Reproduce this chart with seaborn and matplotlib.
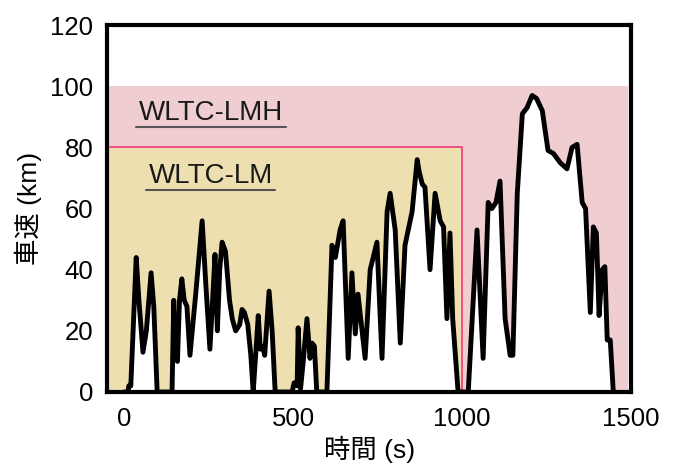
import matplotlib
matplotlib.use("Agg")
import matplotlib.pyplot as plt
import seaborn as sns
import pandas as pd
from matplotlib.patches import Rectangle

# speed trace (time in s, speed in km)
time_s = [0, 12, 14, 20, 36, 44, 56, 66, 80, 88, 98,
          142, 147, 152, 158, 164, 171, 178, 186, 195, 212, 231, 242, 254, 262,
          269, 276, 283, 290, 300, 312, 320, 330, 342, 349, 356, 366, 375, 382,
          397, 403, 410, 416, 429, 438, 447,
          497, 503, 512, 515, 522, 530, 541, 550, 556, 563, 570,
          600, 615, 625, 639, 648, 663, 674, 684, 692, 702, 713, 728, 748, 763,
          778, 787, 802, 817, 831, 852, 867, 873, 882, 890, 905, 920, 935, 945,
          955, 964, 972, 988,
          1018, 1044, 1062, 1077, 1088, 1100, 1112, 1127, 1142, 1150, 1163,
          1178, 1192, 1207, 1220, 1237, 1254, 1270, 1290, 1310, 1325, 1340,
          1355, 1365, 1379, 1388, 1397, 1405, 1414, 1422, 1429, 1438, 1447]
speed = [0, 0, 2, 2, 44, 30, 13, 20, 39, 28, 0,
         0, 30, 12, 10, 30, 37, 30, 28, 12, 32, 56, 35, 14, 30,
         45, 20, 40, 49, 46, 30, 24, 20, 22, 27, 26, 22, 12, 0,
         25, 14, 15, 12, 33, 20, 0,
         0, 3, 2, 21, 1, 10, 24, 11, 16, 15, 0,
         0, 48, 44, 53, 56, 11, 39, 19, 32, 22, 11, 40, 49, 11,
         59, 65, 53, 16, 48, 59, 76, 72, 68, 67, 40, 65, 56, 54,
         24, 52, 24, 0,
         0, 53, 11, 62, 60, 62, 69, 24, 12, 12, 65,
         91, 93, 97, 96, 92, 79, 78, 75, 73, 80, 81,
         62, 60, 26, 54, 52, 25, 40, 41, 17, 17, 0]

# test cycle ranges: (start s, end s, top speed km)
cycle_names = ["WLTC-LMH", "WLTC-LM"]
cycle_start = [-50, -50]
cycle_end = [1490, 1000]
cycle_top = [100, 80]
cycle_colors = ["#F0CDD1", "#EDDFB0"]

df = pd.DataFrame({"time": time_s, "speed": speed})

sns.set_style("white")
plt.rcParams["font.family"] = ["Liberation Sans", "Noto Sans CJK JP", "DejaVu Sans"]
plt.rcParams["text.color"] = "black"
plt.rcParams["xtick.color"] = "black"
plt.rcParams["ytick.color"] = "black"
plt.rcParams["axes.labelcolor"] = "black"

fig = plt.figure(figsize=(6.78, 4.74), dpi=100)
ax = fig.add_axes([0.158, 0.173, 0.773, 0.774])

for x0, x1, top, col in zip(cycle_start, cycle_end, cycle_top, cycle_colors):
    ax.add_patch(Rectangle((x0, 0), x1 - x0, top, facecolor=col, edgecolor="none", zorder=0))

# pink outline of the LM range
ax.plot([cycle_start[1], cycle_end[1], cycle_end[1]], [cycle_top[1], cycle_top[1], 0],
        color="#F0447F", lw=1.3, zorder=1)

# white area under the speed trace
ax.fill_between(df["time"], 0, df["speed"], color="white", lw=0, zorder=2)
sns.lineplot(data=df, x="time", y="speed", color="black", lw=3.5, ax=ax, zorder=3)

# cycle labels, underlined
ax.text(257, 91.4, cycle_names[0], ha="center", va="center", fontsize=20, color="#1a1a1a", zorder=4)
ax.plot([36, 480], [86.8, 86.8], color="#555555", lw=1.5, zorder=4)
ax.text(257, 70.7, cycle_names[1], ha="center", va="center", fontsize=20, color="#1a1a1a", zorder=4)
ax.plot([64, 446], [66.2, 66.2], color="#555555", lw=1.5, zorder=4)

ax.set_xlim(-50, 1500)
ax.set_ylim(0, 120)
ax.set_xticks([0, 500, 1000, 1500])
ax.set_yticks([0, 20, 40, 60, 80, 100, 120])
ax.tick_params(axis="y", direction="in", length=6, width=2.5, labelsize=18.5, pad=10)
ax.tick_params(axis="x", length=0, labelsize=18.5, pad=11)
for s in ax.spines.values():
    s.set_linewidth(3)
    s.set_color("black")

ax.set_xlabel("時間 (s)", fontsize=19, labelpad=3)
ax.set_ylabel("車速 (km)", fontsize=19, labelpad=6)

fig.savefig("out.png", dpi=100)
